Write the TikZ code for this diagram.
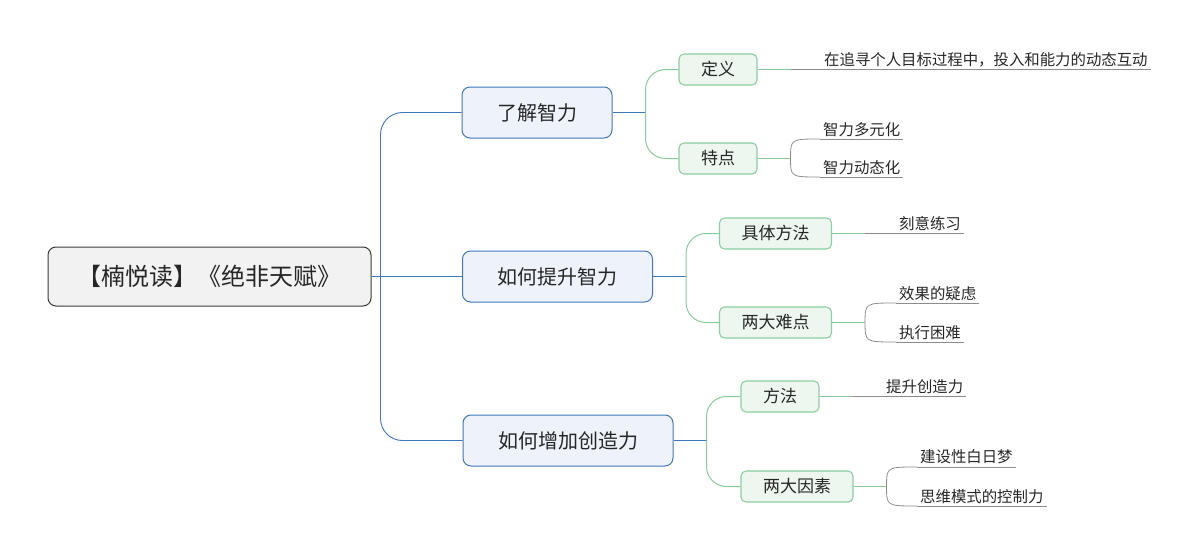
\documentclass[tikz,border=0pt]{standalone}
\usepackage{fontspec}
\setmainfont{Noto Sans CJK SC}
\definecolor{rootfill}{HTML}{F2F2F2}
\definecolor{rootline}{HTML}{3A3A3A}
\definecolor{bluefill}{HTML}{EEF3FB}
\definecolor{blueline}{HTML}{3F77BD}
\definecolor{greenfill}{HTML}{EDF7EF}
\definecolor{greenline}{HTML}{8ACF9F}
\definecolor{greenlink}{HTML}{86CC9B}
\definecolor{leafline}{HTML}{8C8C8C}
\tikzset{
  rootbox/.style={draw=rootline,fill=rootfill,line width=1pt,rounded corners=8pt,minimum width=323pt,minimum height=59pt,text=black!85,font=\fontsize{24}{24}\selectfont},
  mainbox/.style={draw=blueline,fill=bluefill,line width=1pt,rounded corners=8pt,inner xsep=35pt,minimum height=51pt,text=black!85,font=\fontsize{20}{20}\selectfont},
  subbox/.style={draw=greenline,fill=greenfill,line width=1.1pt,rounded corners=5pt,inner xsep=22pt,minimum height=31pt,text=black!85,font=\fontsize{17}{17}\selectfont},
  leaf/.style={anchor=south west,inner xsep=3pt,inner ysep=2.5pt,text=black!85,font=\fontsize{15.4}{15.4}\selectfont},
  bluelink/.style={draw=blueline,line width=0.9pt},
  greenlinks/.style={draw=greenlink,line width=1pt},
  leaflink/.style={draw=leafline,line width=0.8pt}
}
\begin{document}
\begin{tikzpicture}[x=1pt,y=-1pt]
\useasboundingbox (0,0) rectangle (1197,554);

\node[rootbox] (root) at (209.5,276.5) {【楠悦读】《绝非天赋》};

\node[mainbox] (liao) at (537,112.5) {了解智力};
\node[mainbox] (tisheng) at (557.5,276.5) {如何提升智力};
\node[mainbox] (zengjia) at (568,440.5) {如何增加创造力};

\node[subbox] (dingyi) at (718,69.5) {定义};
\node[subbox] (tedian) at (718,158.5) {特点};
\node[subbox] (juti) at (775.5,233.5) {具体方法};
\node[subbox] (nandian) at (775.5,322.5) {两大难点};
\node[subbox] (fangfa) at (780,396.5) {方法};
\node[subbox] (yinsu) at (797,486.5) {两大因素};

\node[leaf] (dy1) at (821,69.5) {在追寻个人目标过程中，投入和能力的动态互动};
\node[leaf] (td1) at (820,139) {智力多元化};
\node[leaf] (td2) at (820,177) {智力动态化};
\node[leaf] (jt1) at (896,233.5) {刻意练习};
\node[leaf] (nd1) at (896,303) {效果的疑虑};
\node[leaf] (nd2) at (896,342) {执行困难};
\node[leaf] (ff1) at (883,396.5) {提升创造力};
\node[leaf] (ys1) at (917,467) {建设性白日梦};
\node[leaf] (ys2) at (917,506) {思维模式的控制力};

% underlines of the leaves
\foreach \l in {dy1,td1,td2,jt1,nd1,nd2,ff1,ys1,ys2}
  \draw[leaflink] (\l.south west) -- (\l.south east);

% root to main topics
\coordinate (hub) at ([xshift=9pt]root.east);
\draw[bluelink] (root) -- (tisheng);
\draw[bluelink,rounded corners=22pt] (hub) |- (liao.west);
\draw[bluelink,rounded corners=22pt] (hub) |- (zengjia.west);

% main topics to subtopics
\foreach \m/\a/\b in {liao/dingyi/tedian,tisheng/juti/nandian,zengjia/fangfa/yinsu}{
  \coordinate (\m-hub) at ([xshift=33pt]\m.east);
  \draw[bluelink] (\m) -- (\m-hub);
  \draw[greenlinks,rounded corners=20pt] (\m-hub) |- (\a.west);
  \draw[greenlinks,rounded corners=20pt] (\m-hub) |- (\b.west);
}

% subtopics to leaves
\foreach \s in {dingyi,tedian,juti,nandian,fangfa,yinsu}{
  \coordinate (\s-hub) at ([xshift=33pt]\s.east);
  \draw[greenlinks] (\s) -- (\s-hub);
}
\draw[leaflink] (dingyi-hub) -- (dy1.south west);
\draw[leaflink] (juti-hub) -- (jt1.south west);
\draw[leaflink] (fangfa-hub) -- (ff1.south west);
\draw[leaflink] (tedian-hub) .. controls (tedian-hub |- td1.south west) .. (td1.south west);
\draw[leaflink] (tedian-hub) .. controls (tedian-hub |- td2.south west) .. (td2.south west);
\draw[leaflink] (nandian-hub) .. controls (nandian-hub |- nd1.south west) .. (nd1.south west);
\draw[leaflink] (nandian-hub) .. controls (nandian-hub |- nd2.south west) .. (nd2.south west);
\draw[leaflink] (yinsu-hub) .. controls (yinsu-hub |- ys1.south west) .. (ys1.south west);
\draw[leaflink] (yinsu-hub) .. controls (yinsu-hub |- ys2.south west) .. (ys2.south west);

\end{tikzpicture}
\end{document}
